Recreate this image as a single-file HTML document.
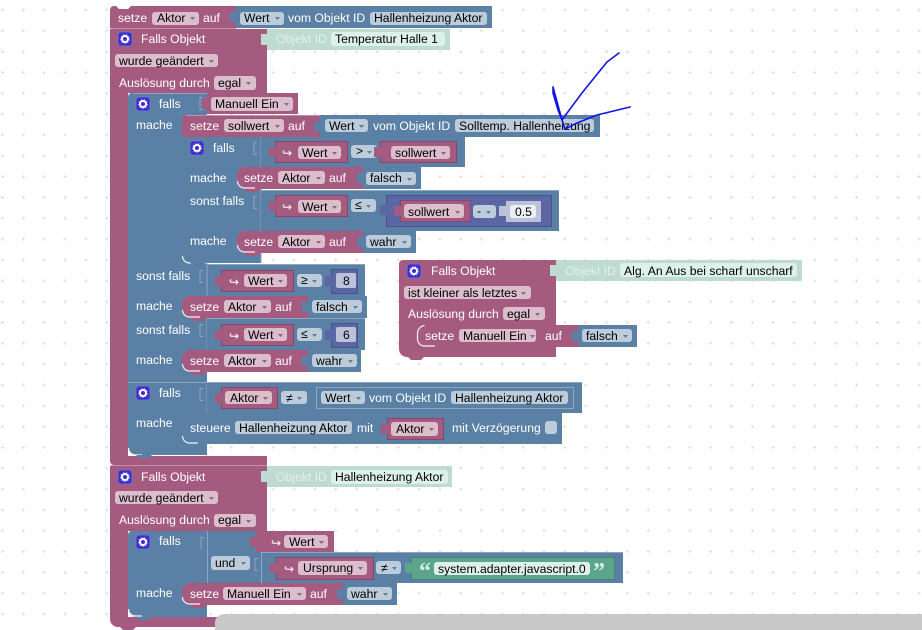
<!DOCTYPE html>
<html><head><meta charset="utf-8">
<style>
html,body{margin:0;padding:0;background:#fff;width:922px;height:630px;overflow:hidden}
svg{display:block}
text{font-family:"Liberation Sans",Arial,sans-serif;font-size:12.2px;fill:#fff}
text.d{fill:#000}
text.o{fill:#e4efea}
.p{fill:#a55b80}.b{fill:#5b80a5}.g{fill:#bddbd0}.u{fill:#5b67a5}.s{fill:#5ba58c}.l{fill:#bdc2db}
.vp{fill:#a55b80;stroke:#84496a;stroke-width:1}
.vb{fill:#5b80a5;stroke:#49668a;stroke-width:1}
.vu{fill:#5b67a5;stroke:#49528a;stroke-width:1}
.vs{fill:#5ba58c;stroke:#498470;stroke-width:1}
.fp{fill:#dbbdcc}.fb{fill:#bdccdb}.fg{fill:#def0ea}.fw{fill:#eeeff6}
.c{fill:#a55b80}.e{fill:#49668a}
.hl{fill:none;stroke:#fff;stroke-width:1.2;opacity:.9}
.hp{stroke:#c08fa8;stroke-width:1;fill:none}
.hb{stroke:#8ca6c0;stroke-width:1;fill:none}
.q{font-family:"Liberation Serif",serif;font-size:24px;font-weight:bold;fill:#d6efe5}
</style></head>
<body>
<svg width="922" height="630" viewBox="0 0 922 630" xmlns="http://www.w3.org/2000/svg">
<defs>
<pattern id="grid" x="2.5" y="10" width="20.83" height="20.83" patternUnits="userSpaceOnUse">
<path d="M0 -1.5V1.5M-1.5 0H1.5M20.83 -1.5V1.5M19.33 0H22.33M0 19.33V22.33M-1.5 20.83H1.5M20.83 19.33V22.33M19.33 20.83H22.33" stroke="#ddd" stroke-width="1" fill="none"/>
</pattern>
<g id="icon"><rect width="14" height="14" rx="3" fill="#3b2fd0" stroke="#7b76c8" stroke-width=".8"/><circle cx="7" cy="7" r="3" fill="none" stroke="#fff" stroke-width="2"/><circle cx="7" cy="7" r="4.3" fill="none" stroke="#cfcaf5" stroke-width="1" stroke-dasharray="1.5 1.5"/></g>
<g id="ar"><path d="M0 0h5l-2.500 3z" fill="#8a6a7a"/></g>
<g id="ab"><path d="M0 0h5l-2.500 3z" fill="#5f7d9c"/></g>
</defs>
<rect width="922" height="630" fill="#fff"/>
<rect width="922" height="630" fill="url(#grid)"/>

<!-- top setze -->
<path class="p" d="M114 6h122v22H110V10a4 4 0 0 1 4-4z"/>
<path d="M116 6l3 3h9l3-3z" fill="#fff"/>
<rect class="b" x="236" y="6" width="256" height="22"/>
<path class="b" d="M230 12h6v10h-6z"/>
<text x="118" y="22">setze</text>
<rect class="fp" x="152" y="12" width="47" height="13" rx="3"/><text class="d" x="157" y="22">Aktor</text><use href="#ar" x="190" y="17"/>
<text x="203" y="22">auf</text>
<rect class="fb" x="240" y="12" width="44" height="13" rx="3"/><text class="d" x="244" y="22">Wert</text><use href="#ab" x="275" y="17"/>
<text x="288" y="22">vom Objekt ID</text>
<rect class="fb" x="370" y="12" width="117" height="13" rx="3"/><text class="d" x="374" y="22">Hallenheizung Aktor</text>

<!-- Falls Objekt 1 -->
<path class="p" d="M110 29H267V93H128V456H267V465H114a4 4 0 0 1-4-4z"/>
<path class="hp" d="M111 28.500H236"/>
<rect class="g" x="267" y="29" width="183" height="21"/>
<path class="g" d="M261 34h6v11h-6z"/>
<use href="#icon" x="118" y="32"/>
<text x="141" y="43">Falls Objekt</text>
<text class="o" x="276" y="43">Objekt ID</text>
<rect class="fg" x="331" y="32" width="114" height="14" rx="3"/><text class="d" x="335" y="43">Temperatur Halle 1</text>
<rect class="fp" x="115" y="54" width="103" height="13" rx="3"/><text class="d" x="119" y="65">wurde geändert</text><use href="#ar" x="209" y="60"/>
<text x="119" y="87">Auslösung durch</text>
<rect class="fp" x="214" y="76" width="42" height="14" rx="3"/><text class="d" x="218" y="87">egal</text><use href="#ar" x="246" y="82"/>

<!-- outer falls 1 -->
<path class="b" d="M132 93H207V382H128V97a4 4 0 0 1 4-4z"/>
<path class="hb" d="M133 93.500H207"/>
<rect class="p" x="207" y="93" width="91" height="21"/>
<path class="p" d="M202 98h5v11h-5z"/>
<path class="hb" d="M203 97.500h-3v12h3"/>
<use href="#icon" x="136" y="97"/>
<text x="159" y="108">falls</text>
<rect class="fp" x="211" y="97" width="82" height="14" rx="3"/><text class="d" x="215" y="108">Manuell Ein</text><use href="#ar" x="284" y="103"/>
<text x="136" y="129">mache</text>

<!-- setze sollwert -->
<path class="p" d="M186 115H320V137H182V119a4 4 0 0 1 4-4z"/>
<path class="hp" d="M186 115.500H320"/>
<rect class="b" x="320" y="115" width="280" height="22"/>
<path class="b" d="M314 121h6v10h-6z"/>
<text x="190" y="130">setze</text>
<rect class="fp" x="224" y="119" width="60" height="13" rx="3"/><text class="d" x="228" y="130">sollwert</text><use href="#ar" x="275" y="125"/>
<text x="288" y="130">auf</text>
<rect class="fb" x="325" y="119" width="43" height="13" rx="3"/><text class="d" x="329" y="130">Wert</text><use href="#ab" x="359" y="125"/>
<text x="373" y="130">vom Objekt ID</text>
<rect class="fb" x="455" y="119" width="139" height="13" rx="3"/><text class="d" x="459" y="130">Solltemp. Hallenheizung</text>

<!-- inner falls -->
<path class="b" d="M182 137H261V263H190a8 8 0 0 1-8-8z"/>
<path class="hl" d="M182.500 256a7 7 0 0 0 7 7H206"/>
<path class="b" d="M190 262h16l-3 4h-10z"/>
<path class="hb" d="M261 137V263"/>
<use href="#icon" x="190" y="141"/>
<text x="213" y="152">falls</text>
<rect class="b" x="261" y="137" width="204" height="30"/>
<path class="hb" d="M257 142.500h-3v12h3M257 196.500h-3v12h3"/>
<rect class="vp" x="275.500" y="141.500" width="72" height="21"/><path class="c" d="M269 147h7v10h-7z"/>
<text x="282" y="157">↪</text>
<rect class="fp" x="298" y="146" width="43" height="13" rx="3"/><text class="d" x="302" y="157">Wert</text><use href="#ar" x="332" y="152"/>
<rect class="fb" x="351" y="145" width="26" height="13" rx="3"/><text class="d" x="356" y="155">&gt;</text><use href="#ab" x="367" y="151"/>
<rect class="vp" x="380.500" y="141.500" width="76" height="21"/><path class="c" d="M374 147h7v10h-7z"/>
<rect class="fp" x="391" y="146" width="59" height="13" rx="3"/><text class="d" x="395" y="157">sollwert</text><use href="#ar" x="441" y="152"/>
<text x="190" y="182">mache</text>

<path class="p" d="M245 167H363V189H245a8 8 0 0 1-8-8V175a8 8 0 0 1 8-8z"/>
<path class="hl" d="M237.500 181a7 7 0 0 0 7 7H255"/>
<rect class="b" x="363" y="167" width="58" height="22"/>
<path class="b" d="M357 173h6v10h-6z"/>
<path class="p" d="M244 189h16l-3 3h-10z"/>
<text x="244" y="182">setze</text>
<rect class="fp" x="278" y="171" width="47" height="13" rx="3"/><text class="d" x="282" y="182">Aktor</text><use href="#ar" x="316" y="177"/>
<text x="329" y="182">auf</text>
<rect class="fb" x="366" y="172" width="50" height="13" rx="3"/><text class="d" x="370" y="182">falsch</text><use href="#ab" x="407" y="178"/>

<!-- sonst falls inner -->
<rect class="b" x="261" y="191" width="298" height="40"/>
<path class="hb" d="M261 190.500H559"/>
<text x="190" y="205">sonst falls</text>
<rect class="vp" x="275.500" y="195.500" width="72" height="21"/><path class="c" d="M269 201h7v10h-7z"/>
<text x="282" y="211">↪</text>
<rect class="fp" x="298" y="200" width="43" height="13" rx="3"/><text class="d" x="302" y="211">Wert</text><use href="#ar" x="332" y="206"/>
<rect class="fb" x="351" y="199" width="25" height="13" rx="3"/><text class="d" x="355" y="209">≤</text><use href="#ab" x="366" y="205"/>
<rect class="vu" x="386.500" y="195.500" width="165" height="31"/><path class="u" d="M380 205h7v10h-7z"/>
<rect class="vp" x="400.500" y="200.500" width="70" height="21"/><path class="c" d="M394 206h7v10h-7z"/>
<rect class="fp" x="404" y="204" width="60" height="14" rx="3"/><text class="d" x="408" y="216">sollwert</text><use href="#ar" x="455" y="211"/>
<rect class="fb" x="473" y="205" width="23" height="13" rx="3"/><text class="d" x="477" y="215">-</text><use href="#ab" x="486" y="211"/>
<rect class="l" x="506" y="201" width="35" height="21"/><path class="l" d="M499 206h7v10h-7z"/>
<rect class="fw" x="510" y="205" width="26" height="13" rx="3"/><text class="d" x="515" y="216">0.5</text>

<text x="190" y="245">mache</text>
<path class="p" d="M245 231H363V253H245a8 8 0 0 1-8-8V239a8 8 0 0 1 8-8z"/>
<path class="hl" d="M237.500 245a7 7 0 0 0 7 7H255"/>
<rect class="b" x="363" y="231" width="53" height="22"/>
<path class="b" d="M357 237h6v10h-6z"/>
<path class="p" d="M244 253h16l-3 3h-10z"/>
<text x="244" y="246">setze</text>
<rect class="fp" x="278" y="235" width="47" height="13" rx="3"/><text class="d" x="282" y="246">Aktor</text><use href="#ar" x="316" y="241"/>
<text x="329" y="246">auf</text>
<rect class="fb" x="366" y="235" width="45" height="13" rx="3"/><text class="d" x="370" y="246">wahr</text><use href="#ab" x="402" y="241"/>

<!-- outer sonst falls 8 -->
<rect class="b" x="207" y="265" width="158" height="31"/>
<path class="hb" d="M207 264.500H365M207 265V350M203 270.500h-3v12h3M203 324.500h-3v12h3"/>
<text x="136" y="280">sonst falls</text>
<rect class="vp" x="221.500" y="270.500" width="72" height="21"/><path class="c" d="M215 276h7v10h-7z"/>
<text x="229" y="286">↪</text>
<rect class="fp" x="244" y="274" width="43" height="13" rx="3"/><text class="d" x="248" y="285">Wert</text><use href="#ar" x="278" y="280"/>
<rect class="fb" x="297" y="274" width="25" height="13" rx="3"/><text class="d" x="301" y="284">≥</text><use href="#ab" x="312" y="280"/>
<rect class="vu" x="331.500" y="269.500" width="26" height="24"/><path class="u" d="M325 276h7v10h-7z"/>
<rect class="l" x="336" y="273" width="20" height="15" rx="2"/><text class="d" x="343" y="285">8</text>

<text x="136" y="310">mache</text>
<path class="p" d="M190 296H308V318H190a8 8 0 0 1-8-8V304a8 8 0 0 1 8-8z"/>
<path class="hl" d="M182.500 310a7 7 0 0 0 7 7H200"/>
<rect class="b" x="308" y="296" width="59" height="22"/>
<path class="b" d="M302 302h6v10h-6z"/>
<path class="p" d="M190 318h16l-3 3h-10z"/>
<text x="190" y="311">setze</text>
<rect class="fp" x="224" y="300" width="47" height="13" rx="3"/><text class="d" x="228" y="311">Aktor</text><use href="#ar" x="262" y="306"/>
<text x="275" y="311">auf</text>
<rect class="fb" x="312" y="300" width="50" height="13" rx="3"/><text class="d" x="316" y="311">falsch</text><use href="#ab" x="353" y="306"/>

<!-- outer sonst falls 6 -->
<rect class="b" x="207" y="319" width="158" height="31"/>
<path class="hb" d="M207 318.500H365"/>
<text x="136" y="334">sonst falls</text>
<rect class="vp" x="221.500" y="324.500" width="72" height="21"/><path class="c" d="M215 330h7v10h-7z"/>
<text x="229" y="340">↪</text>
<rect class="fp" x="244" y="328" width="43" height="13" rx="3"/><text class="d" x="248" y="339">Wert</text><use href="#ar" x="278" y="334"/>
<rect class="fb" x="297" y="328" width="25" height="13" rx="3"/><text class="d" x="301" y="338">≤</text><use href="#ab" x="312" y="334"/>
<rect class="vu" x="331.500" y="323.500" width="26" height="24"/><path class="u" d="M325 330h7v10h-7z"/>
<rect class="l" x="336" y="327" width="20" height="15" rx="2"/><text class="d" x="343" y="339">6</text>

<text x="136" y="364">mache</text>
<path class="p" d="M190 350H308V372H190a8 8 0 0 1-8-8V358a8 8 0 0 1 8-8z"/>
<path class="hl" d="M182.500 364a7 7 0 0 0 7 7H200"/>
<rect class="b" x="308" y="350" width="53" height="22"/>
<path class="b" d="M302 356h6v10h-6z"/>
<path class="p" d="M190 372h16l-3 3h-10z"/>
<text x="190" y="365">setze</text>
<rect class="fp" x="224" y="354" width="47" height="13" rx="3"/><text class="d" x="228" y="365">Aktor</text><use href="#ar" x="262" y="360"/>
<text x="275" y="365">auf</text>
<rect class="fb" x="312" y="354" width="45" height="13" rx="3"/><text class="d" x="316" y="365">wahr</text><use href="#ab" x="348" y="360"/>

<!-- falls 3 -->
<path class="b" d="M128 382H207V455H136a8 8 0 0 1-8-8z"/>
<path class="hb" d="M128 382.500H582M207 382V413M203 388.500h-3v12h3"/>
<path class="hl" d="M128.500 448a7 7 0 0 0 7 7H142"/>
<path class="b" d="M136 455h16l-3 3h-10z"/>
<rect class="b" x="207" y="383" width="375" height="30"/>
<use href="#icon" x="136" y="386"/>
<text x="159" y="397">falls</text>
<rect class="vp" x="221.500" y="387.500" width="56" height="21"/><path class="c" d="M215 393h7v10h-7z"/>
<rect class="fp" x="225" y="391" width="47" height="13" rx="3"/><text class="d" x="230" y="402">Aktor</text><use href="#ar" x="263" y="397"/>
<rect class="fb" x="281" y="391" width="26" height="13" rx="3"/><text class="d" x="286" y="402">≠</text><use href="#ab" x="297" y="397"/>
<rect class="b" x="316.500" y="387.500" width="257" height="21" style="stroke:#8ca6c0;stroke-width:1"/>
<rect class="fb" x="321" y="391" width="44" height="13" rx="3"/><text class="d" x="325" y="402">Wert</text><use href="#ab" x="356" y="397"/>
<text x="369" y="402">vom Objekt ID</text>
<rect class="fb" x="451" y="391" width="117" height="13" rx="3"/><text class="d" x="455" y="402">Hallenheizung Aktor</text>
<text x="136" y="427">mache</text>

<path class="b" d="M190 413H562V444H190a8 8 0 0 1-8-8V421a8 8 0 0 1 8-8z"/>
<path class="hl" d="M182.500 436a7 7 0 0 0 7 7H198"/>
<path class="b" d="M190 444h16l-3 3h-10z"/>
<text x="190" y="432">steuere</text>
<rect class="fb" x="235" y="421" width="117" height="13" rx="3"/><text class="d" x="239" y="432">Hallenheizung Aktor</text>
<text x="357" y="432">mit</text>
<rect class="vp" x="387.500" y="418.500" width="56" height="21"/><path class="c" d="M381 424h7v10h-7z"/>
<rect class="fp" x="391" y="422" width="47" height="14" rx="3"/><text class="d" x="396" y="433">Aktor</text><use href="#ar" x="429" y="428"/>
<text x="452" y="432">mit Verzögerung</text>
<rect class="fb" x="545" y="421" width="12" height="13" rx="3"/>

<!-- Falls Objekt 2 -->
<path class="p" d="M110 466H267V531H128V617H267V627H118a8 8 0 0 1-8-8z"/>
<path class="hp" d="M111 465.500H267"/>
<path class="p" d="M120 627h16l-3 3h-10z"/>
<rect class="g" x="267" y="466" width="185" height="21"/>
<path class="g" d="M261 471h6v11h-6z"/>
<use href="#icon" x="118" y="470"/>
<text x="141" y="481">Falls Objekt</text>
<text class="o" x="276" y="481">Objekt ID</text>
<rect class="fg" x="331" y="470" width="117" height="14" rx="3"/><text class="d" x="335" y="481">Hallenheizung Aktor</text>
<rect class="fp" x="115" y="491" width="103" height="13" rx="3"/><text class="d" x="119" y="502">wurde geändert</text><use href="#ar" x="209" y="497"/>
<text x="119" y="524">Auslösung durch</text>
<rect class="fp" x="214" y="514" width="42" height="13" rx="3"/><text class="d" x="218" y="524">egal</text><use href="#ar" x="246" y="520"/>

<path class="b" d="M132 531H207V617H136a8 8 0 0 1-8-8V535a4 4 0 0 1 4-4z"/>
<path class="hl" d="M128.500 609a7 7 0 0 0 7 7H142"/>
<path class="b" d="M136 617h16l-3 3h-10z"/>
<use href="#icon" x="136" y="535"/>
<text x="159" y="545">falls</text>
<rect class="b" x="207" y="531" width="55" height="52"/>
<path class="hb" d="M207.500 531V583M261.500 531V583M204 537.500h-3v12h-0M258 558.500h-3v12h3"/>
<rect class="p" x="256" y="531" width="78" height="21"/><path class="p" d="M250 537h7v10h-7z"/>
<text x="271" y="547">↪</text>
<rect class="fp" x="284" y="535" width="44" height="13" rx="3"/><text class="d" x="289" y="546">Wert</text><use href="#ar" x="319" y="541"/>
<rect class="b" x="262" y="552" width="361" height="31"/>
<path class="hb" d="M262 552.500H623"/>
<rect class="fb" x="211" y="556" width="39" height="14" rx="3"/><text x="215" y="567" class="d">und</text><use href="#ab" x="241" y="562"/>
<rect class="vp" x="276.500" y="557.500" width="97" height="22"/><path class="c" d="M270 563h7v10h-7z"/>
<text x="284" y="573">↪</text>
<rect class="fp" x="298" y="561" width="69" height="14" rx="3"/><text class="d" x="303" y="572">Ursprung</text><use href="#ar" x="358" y="567"/>
<rect class="fb" x="376" y="561" width="25" height="13" rx="3"/><text class="d" x="381" y="572">≠</text><use href="#ab" x="392" y="567"/>
<rect class="vs" x="411.500" y="557.500" width="203" height="22"/><path class="s" d="M405 563h7v10h-7z"/>
<text class="q" x="419" y="579">“</text>
<rect class="fg" x="434" y="562" width="156" height="13" rx="3"/><text class="d" x="438" y="573">system.adapter.javascript.0</text>
<text class="q" x="593" y="579">”</text>
<text x="136" y="597">mache</text>

<path class="p" d="M190 583H343V605H190a8 8 0 0 1-8-8V591a8 8 0 0 1 8-8z"/>
<path class="hl" d="M182.500 597a7 7 0 0 0 7 7H200"/>
<rect class="b" x="343" y="583" width="54" height="22"/>
<path class="b" d="M337 589h6v10h-6z"/>
<path class="p" d="M190 605h16l-3 3h-10z"/>
<text x="190" y="598">setze</text>
<rect class="fp" x="223" y="587" width="83" height="13" rx="3"/><text class="d" x="227" y="598">Manuell Ein</text><use href="#ar" x="297" y="593"/>
<text x="310" y="598">auf</text>
<rect class="fb" x="347" y="587" width="45" height="13" rx="3"/><text class="d" x="351" y="598">wahr</text><use href="#ab" x="383" y="593"/>

<!-- floating block -->
<path class="p" d="M403 260H556V357H407a8 8 0 0 1-8-8V264a4 4 0 0 1 4-4z"/>
<rect class="p" x="417" y="325" width="161" height="22"/>
<rect class="g" x="556" y="260" width="246" height="21"/>
<path class="g" d="M550 265h6v11h-6z"/>
<path class="p" d="M408 357h16l-3 3h-10z"/>
<use href="#icon" x="407" y="264"/>
<text x="431" y="275">Falls Objekt</text>
<text class="o" x="565" y="275">Objekt ID</text>
<rect class="fg" x="620" y="263" width="177" height="14" rx="3"/><text class="d" x="624" y="275">Alg. An Aus bei scharf unscharf</text>
<rect class="fp" x="404" y="286" width="127" height="13" rx="3"/><text class="d" x="408" y="297">ist kleiner als letztes</text><use href="#ar" x="521" y="292"/>
<text x="408" y="318">Auslösung durch</text>
<rect class="fp" x="503" y="307" width="42" height="13" rx="3"/><text class="d" x="507" y="318">egal</text><use href="#ar" x="535" y="313"/>
<path class="hl" d="M417.500 339a7 7 0 0 0 7 7H435M417.500 339V333a8 8 0 0 1 7-7.500"/>
<rect class="b" x="578" y="325" width="59" height="22"/>
<path class="b" d="M572 331h6v10h-6z"/>
<text x="425" y="340">setze</text>
<rect class="fp" x="459" y="329" width="77" height="13" rx="3"/><text class="d" x="463" y="340">Manuell Ein</text><use href="#ar" x="530" y="335"/>
<text x="545" y="340">auf</text>
<rect class="fb" x="582" y="329" width="50" height="13" rx="3"/><text class="d" x="586" y="340">falsch</text><use href="#ab" x="623" y="335"/>

<!-- gray scrollbar -->
<path d="M922 614H225a10 8 0 0 0-10 8v8H922z" fill="#c8c8c8"/>

<!-- hand-drawn arrow -->
<path d="M619 53L607 62L590 83L582 93L573 105L562 120L553 87L553 93L558 110L562 120L565 129L577 123L597 115L630 107" fill="none" stroke="#1414e0" stroke-width="1.6" stroke-linejoin="round" stroke-linecap="round"/>
</svg>
</body></html>
